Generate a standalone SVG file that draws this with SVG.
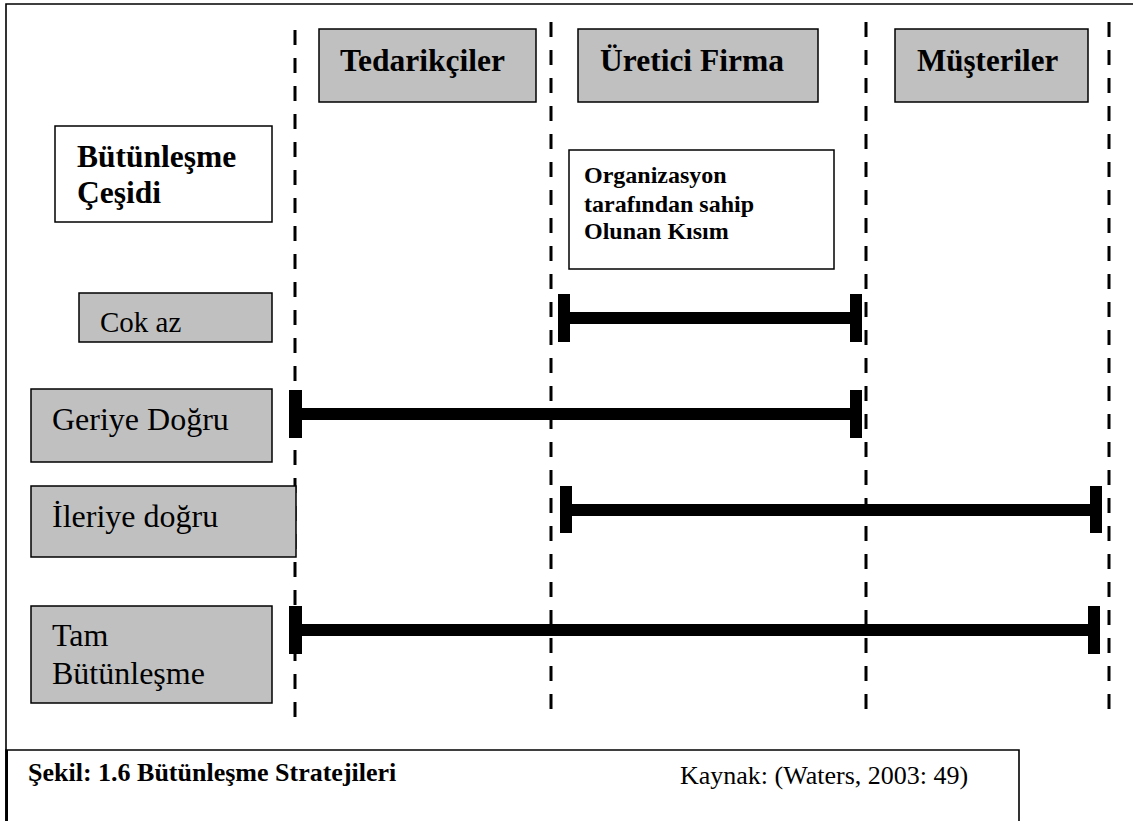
<svg xmlns="http://www.w3.org/2000/svg" width="1133" height="821" viewBox="0 0 1133 821">
<style>
.frame{fill:none;stroke:#000;stroke-width:1.6}
.hdr{fill:#c0c0c0;stroke:#000;stroke-width:1.5}
.wbox{fill:#fff;stroke:#000;stroke-width:1.5}
.dash{stroke:#000;stroke-width:3;stroke-dasharray:15 13;fill:none}
.bar{fill:#000}
.b{font-family:"Liberation Serif","Times New Roman",serif;font-weight:bold;fill:#000}
.r{font-family:"Liberation Serif","Times New Roman",serif;fill:#000}
</style>
<rect x="0" y="0" width="1133" height="821" fill="#fff"/>
<g id="frame">
<path class="frame" d="M6,821 V4 H1133"/>
</g>
<g id="lanes">
<line class="dash" x1="295" y1="30" x2="295" y2="718"/>
<line class="dash" x1="551" y1="22" x2="551" y2="710"/>
<line class="dash" x1="866" y1="22" x2="866" y2="710"/>
<line class="dash" x1="1109" y1="22" x2="1109" y2="710"/>
</g>
<g id="tedarikciler">
<rect class="hdr" x="319" y="29" width="217" height="73"/>
<text class="b" x="340" y="71" font-size="31.5">Tedarikçiler</text>
</g>
<g id="uretici">
<rect class="hdr" x="578" y="29" width="240" height="73"/>
<text class="b" x="600" y="71" font-size="31.5">Üretici Firma</text>
</g>
<g id="musteriler">
<rect class="hdr" x="895" y="29" width="193" height="73"/>
<text class="b" x="917" y="71" font-size="31">Müşteriler</text>
</g>
<g id="cesit">
<rect class="wbox" x="55" y="126" width="217" height="96"/>
<text class="b" x="77" y="167" font-size="31.5">Bütünleşme</text>
<text class="b" x="77" y="203" font-size="31.5">Çeşidi</text>
</g>
<g id="organizasyon">
<rect class="wbox" x="569" y="150" width="265" height="119"/>
<text class="b" x="584" y="183" font-size="24">Organizasyon</text>
<text class="b" x="584" y="212" font-size="24">tarafından sahip</text>
<text class="b" x="584" y="239" font-size="24">Olunan Kısım</text>
</g>
<g id="cokaz">
<rect class="hdr" x="79" y="293" width="193" height="49"/>
<text class="r" x="100" y="332" font-size="29">Cok az</text>
</g>
<g id="geriye">
<rect class="hdr" x="31" y="389" width="241" height="73"/>
<text class="r" x="52" y="430" font-size="32">Geriye Doğru</text>
</g>
<g id="ileriye">
<rect class="hdr" x="31" y="486" width="265" height="71"/>
<text class="r" x="52" y="527" font-size="32">İleriye doğru</text>
</g>
<g id="tam">
<rect class="hdr" x="31" y="606" width="241" height="97"/>
<text class="r" x="52" y="646" font-size="32">Tam</text>
<text class="r" x="52" y="684" font-size="32">Bütünleşme</text>
</g>
<g id="connectors">
<rect class="bar" x="558" y="294" width="12" height="48"/>
<rect class="bar" x="570" y="312" width="280" height="12"/>
<rect class="bar" x="850" y="294" width="12" height="48"/>

<rect class="bar" x="289" y="390" width="13" height="48"/>
<rect class="bar" x="302" y="408" width="548" height="12"/>
<rect class="bar" x="850" y="390" width="12" height="48"/>

<rect class="bar" x="560" y="486" width="12" height="47"/>
<rect class="bar" x="572" y="504" width="518" height="12"/>
<rect class="bar" x="1090" y="486" width="12" height="47"/>

<rect class="bar" x="289" y="606" width="13" height="48"/>
<rect class="bar" x="302" y="624" width="786" height="12"/>
<rect class="bar" x="1088" y="606" width="12" height="48"/>
</g>
<g id="caption">
<path class="frame" d="M6,821 V750 H1019 V821"/>
<line x1="7" y1="750" x2="7" y2="821" stroke="#000" stroke-width="2"/>
<text class="b" x="28" y="781" font-size="26">Şekil: 1.6 Bütünleşme Stratejileri</text>
<text class="r" x="680" y="784" font-size="26">Kaynak: (Waters, 2003: 49)</text>
</g>
</svg>
